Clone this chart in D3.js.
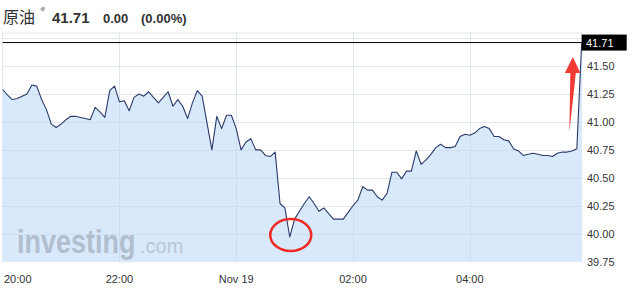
<!DOCTYPE html>
<html><head><meta charset="utf-8">
<script src="https://cdn.jsdelivr.net/npm/d3@7"></script>
<style>
html,body{margin:0;padding:0;background:#fff;}
svg{display:block;}
</style></head>
<body>
<svg id="c" width="632" height="292"></svg>
<script>
// ---- data (5-minute closes, crude oil, from 20:00) ----
const title = "原油";
const lastPrice = "41.71";
const change = "0.00";
const changePct = "(0.00%)";
const stepMinutes = 5;
const prices = [
 41.29,41.24,41.20,41.21,41.23,41.25,41.33,41.32,41.20,41.11,
 40.98,40.95,40.98,41.02,41.05,41.05,41.04,41.03,41.02,41.13,
 41.09,41.04,41.28,41.32,41.18,41.19,41.10,41.22,41.25,41.23,
 41.27,41.22,41.17,41.22,41.27,41.14,41.20,41.14,41.03,41.17,
 41.28,41.23,40.99,40.75,41.05,40.94,41.06,41.06,40.94,40.75,
 40.82,40.85,40.75,40.75,40.70,40.69,40.73,40.27,40.23,39.97,
 40.13,40.20,40.27,40.33,40.27,40.20,40.23,40.18,40.13,40.13,
 40.13,40.19,40.25,40.30,40.42,40.39,40.39,40.33,40.30,40.36,
 40.55,40.55,40.49,40.56,40.56,40.74,40.62,40.66,40.71,40.77,
 40.80,40.77,40.77,40.78,40.87,40.89,40.88,40.90,40.94,40.96,
 40.94,40.87,40.87,40.84,40.83,40.76,40.74,40.70,40.71,40.72,
 40.71,40.70,40.70,40.69,40.72,40.73,40.73,40.74,40.76,41.71
];
const xTickMinutes = [0, 120, 240, 360, 480];
const xTickLabels = ["20:00", "22:00", "Nov 19", "02:00", "04:00"];
const yGridValues = [41.75, 41.50, 41.25, 41.00, 40.75, 40.50, 40.25, 40.00];
const yTickValues = [41.50, 41.25, 41.00, 40.75, 40.50, 40.25, 40.00, 39.75];

// ---- layout ----
const svg = d3.select("#c");
const plot = {left: 2.67, right: 581.7, top: 33, bottom: 261.6};
const data = prices.map((v, i) => ({t: i * stepMinutes, v}));
const x = d3.scaleLinear().domain([0, (prices.length - 1) * stepMinutes]).range([plot.left, plot.right]);
const y = d3.scaleLinear().domain([39.75, 41.75]).range([plot.bottom, 38.1]);
const font = "Arial, 'Liberation Sans', sans-serif";

// header
svg.append("text").attr("x", 3).attr("y", 23).attr("font-family", "'Noto Sans CJK SC', sans-serif")
  .attr("font-size", 16).attr("fill", "#333").text(title);
svg.append("path").attr("d", "M40,9 L43,6.5 L45.5,8 L43,12 Z").attr("fill", "#aaa");
svg.append("text").attr("x", 52).attr("y", 23).attr("font-family", font).attr("font-weight", "bold")
  .attr("font-size", 15).attr("fill", "#333").text(lastPrice);
svg.append("text").attr("x", 103).attr("y", 23).attr("font-family", font).attr("font-weight", "bold")
  .attr("font-size", 13).attr("fill", "#333").text(change);
svg.append("text").attr("x", 141).attr("y", 23).attr("font-family", font).attr("font-weight", "bold")
  .attr("font-size", 13).attr("fill", "#333").text(changePct);

// plot border
svg.append("rect").attr("x", plot.left).attr("y", plot.top)
  .attr("width", plot.right - plot.left).attr("height", plot.bottom - plot.top)
  .attr("fill", "#fff").attr("stroke", "#e2e5ea").attr("stroke-width", 1);

// area
const area = d3.area().x(d => x(d.t)).y0(plot.bottom).y1(d => y(d.v));
svg.append("path").datum(data).attr("d", area).attr("fill", "#d9e9fc");

// watermark
const wm = svg.append("g").attr("opacity", 0.95);
wm.append("text").attr("transform", "translate(17,253) scale(1,1.22)")
  .attr("font-family", font).attr("font-weight", "bold")
  .attr("font-size", 27).attr("fill", "#b0bccc").text("investing");
wm.append("text").attr("x", 140).attr("y", 253).attr("font-family", font)
  .attr("font-size", 20).attr("fill", "#bac5d3").text(".com");

// grid
svg.append("g").selectAll("line").data(yGridValues).join("line")
  .attr("x1", plot.left).attr("x2", plot.right)
  .attr("y1", d => Math.round(y(d)) + 0.5).attr("y2", d => Math.round(y(d)) + 0.5)
  .attr("stroke", "#c9d3e2").attr("stroke-opacity", 0.55);
svg.append("g").selectAll("line").data(xTickMinutes.slice(1)).join("line")
  .attr("x1", d => Math.round(x(d)) + 0.5).attr("x2", d => Math.round(x(d)) + 0.5)
  .attr("y1", plot.top).attr("y2", plot.bottom)
  .attr("stroke", "#c9d3e2").attr("stroke-opacity", 0.55);

// last price line
const lastV = prices[prices.length - 1];
svg.append("line").attr("x1", plot.left).attr("x2", plot.right)
  .attr("y1", y(lastV)).attr("y2", y(lastV)).attr("stroke", "#000").attr("stroke-width", 1);

// price line
const line = d3.line().x(d => x(d.t)).y(d => y(d.v));
svg.append("path").datum(data).attr("d", line).attr("fill", "none")
  .attr("stroke", "#2c3a6a").attr("stroke-width", 1.1).attr("stroke-linejoin", "round");

// y labels
svg.append("g").selectAll("text").data(yTickValues).join("text")
  .attr("x", 587).attr("y", d => y(d)).attr("dy", "0.36em")
  .attr("font-family", font).attr("font-size", 11).attr("fill", "#333")
  .text(d => d.toFixed(2));
// last price box
svg.append("rect").attr("x", plot.right).attr("y", y(lastV) - 8).attr("width", 45).attr("height", 16).attr("fill", "#000");
svg.append("text").attr("x", 586).attr("y", y(lastV)).attr("dy", "0.36em")
  .attr("font-family", font).attr("font-size", 11).attr("fill", "#fff").text(lastV.toFixed(2));

// x labels
svg.append("g").selectAll("text").data(xTickMinutes).join("text")
  .attr("x", (d, i) => i === 0 ? 4 : x(d))
  .attr("text-anchor", (d, i) => i === 0 ? "start" : "middle")
  .attr("y", 283).attr("font-family", font).attr("font-size", 11).attr("fill", "#333")
  .text((d, i) => xTickLabels[i]);

// annotations: red circle on the low, red arrow at the last jump
const minIdx = d3.minIndex(prices);
svg.append("ellipse").attr("cx", x(data[minIdx].t) + 1).attr("cy", y(prices[minIdx]) - 2)
  .attr("rx", 20.5).attr("ry", 16).attr("fill", "none").attr("stroke", "#ee2a24").attr("stroke-width", 2.5);
const ax = x(data[data.length - 2].t) - 4.5;
svg.append("path")
  .attr("d", `M${ax - 3},132 L${ax + 3.5},73 L${ax + 8},73 L${ax + 0.5},57 L${ax - 7.5},73 L${ax - 2},73 Z`)
  .attr("fill", "#f23a35");
</script>
</body></html>
